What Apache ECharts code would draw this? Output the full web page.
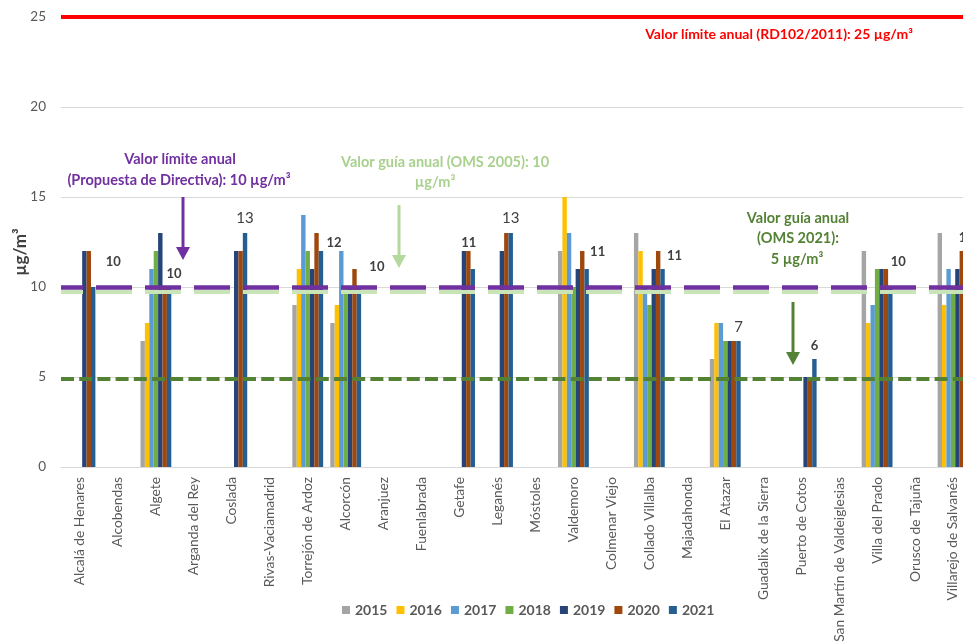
<!DOCTYPE html>
<html>
<head>
<meta charset="utf-8">
<script src="https://cdn.jsdelivr.net/npm/echarts@6/dist/echarts.min.js"></script>
<style>
html,body{margin:0;padding:0;background:#fff;}
#chart{width:963px;height:644px;}
</style>
</head>
<body>
<div id="chart"></div>
<script>
const categories = ["Alcalá de Henares","Alcobendas","Algete","Arganda del Rey","Coslada","Rivas-Vaciamadrid","Torrejón de Ardoz","Alcorcón","Aranjuez","Fuenlabrada","Getafe","Leganés","Móstoles","Valdemoro","Colmenar Viejo","Collado Villalba","Majadahonda","El Atazar","Guadalix de la Sierra","Puerto de Cotos","San Martín de Valdeiglesias","Villa del Prado","Orusco de Tajuña","Villarejo de Salvanés"];
const years = ["2015","2016","2017","2018","2019","2020","2021"];
const v2015 = [null,null,7,null,null,null,9,8,null,null,null,null,null,12,null,13,null,6,null,null,null,12,null,13];
const v2016 = [null,null,8,null,null,null,11,9,null,null,null,null,null,15,null,12,null,8,null,null,null,8,null,9];
const v2017 = [null,null,11,null,null,null,14,12,null,null,null,null,null,13,null,10,null,8,null,null,null,9,null,11];
const v2018 = [null,null,12,null,null,null,12,10,null,null,null,null,null,10,null,9,null,7,null,null,null,11,null,10];
const v2019 = [12,null,13,null,12,null,11,10,null,null,12,12,null,11,null,11,null,7,null,5,null,11,null,11];
const v2020 = [12,null,10,null,12,null,13,11,null,null,12,13,null,12,null,12,null,7,null,5,null,11,null,12];
const v2021 = [10,null,10,null,13,null,12,10,null,null,11,13,null,11,null,11,null,7,null,6,null,10,null,12];
const yTicks = [0,5,10,15,20,25];
const limitRD = 25;      // Valor límite anual (RD102/2011)
const limitDir = 10;     // Propuesta de Directiva
const guideOMS2005 = 10; // OMS 2005
const guideOMS2021 = 5;  // OMS 2021

// styles (not data)
const colors = ["#A5A5A5","#FFC000","#5B9BD5","#70AD47","#264478","#9E480E","#255E91"];
const FONT = "Lato, 'Open Sans', sans-serif";
const labelOffsets = {0:[20,-19],2:[5,-7],4:[0,-7],6:[13,-2],7:[18,-14],10:[-4,-20],11:[0,-7],13:[11,-11],15:[12,-7],17:[0,-6],19:[0,-7],21:[8,-19],23:[0,-7]};
const plainLabels = {4:true,11:true,17:true};

const allValues = [v2015,v2016,v2017,v2018,v2019,v2020,v2021];

const series = years.map((y, k) => {
  const vals = allValues[k];
  return {
    name: y, type: 'bar', barGap: '0%', barCategoryGap: '18.8%',
    itemStyle: {color: colors[k]},
    data: vals.map((v, i) => {
      if (k === 6 && v !== null && labelOffsets[i]) {
        const plain = plainLabels[i];
        return {value: v, label: {show: true, position: 'top', distance: 0, offset: labelOffsets[i],
          fontFamily: FONT, fontSize: plain ? 15 : 13, fontWeight: plain ? 'normal' : 'bold', color: '#404040'}};
      }
      return v;
    }),
    z: 2
  };
});

const mlLine = (val, color, width, type, offset) => ({
  yAxis: val,
  lineStyle: {color: color, width: width, type: type, dashOffset: offset || 0}
});

series.push({
  type: 'line', data: [], z: 10, silent: true,
  markLine: {
    silent: true, symbol: 'none', animation: false, label: {show: false},
    data: [
      mlLine(limitRD, '#FF0000', 4, 'solid'),
      mlLine(guideOMS2005 - 0.28, '#C9E5B8', 4, [36, 13], 14),
      mlLine(limitDir, '#7030A0', 4.5, [36, 13], 14),
      mlLine(guideOMS2021 - 0.08, '#548235', 4, [13, 5.2], 0)
    ]
  }
});

const txt = (x, y, text, color, size) => ({
  type: 'text', x: x, y: y, z: 20,
  style: {text: text, fill: color, font: 'bold ' + (size || 14.5) + 'px ' + FONT, align: 'center', verticalAlign: 'middle'}
});
const arrow = (x, y1, y2, color) => ([
  {type: 'line', z: 20, shape: {x1: x, y1: y1, x2: x, y2: y2 - 11}, style: {stroke: color, lineWidth: 3}},
  {type: 'polygon', z: 20, shape: {points: [[x - 7, y2 - 13], [x + 7, y2 - 13], [x, y2]]}, style: {fill: color}}
]);

const chart = echarts.init(document.getElementById('chart'), null, {renderer: 'canvas'});
chart.setOption({
  animation: false,
  color: colors,
  textStyle: {fontFamily: FONT},
  grid: {left: 61, top: 17, width: 911, height: 450, containLabel: false, outerBoundsMode: 'none'},
  legend: {
    data: years, left: 337, top: 598, itemWidth: 8, itemHeight: 8, itemGap: 9, icon: 'rect',
    textStyle: {fontFamily: FONT, fontSize: 14, fontWeight: 'bold', color: '#595959'}
  },
  xAxis: {
    type: 'category', data: categories,
    axisLine: {lineStyle: {color: '#D9D9D9'}},
    axisTick: {show: false},
    axisLabel: {rotate: 90, interval: 0, margin: 10, fontSize: 13.8, color: '#595959', fontFamily: FONT}
  },
  yAxis: {
    type: 'value', min: yTicks[0], max: yTicks[yTicks.length - 1], interval: 5,
    axisLine: {show: false}, axisTick: {show: false},
    axisLabel: {margin: 15, fontSize: 13.5, color: '#595959', fontFamily: FONT},
    splitLine: {lineStyle: {color: '#D9D9D9', width: 1}}
  },
  series: series,
  graphic: [
    {type: 'text', x: 21, y: 252, rotation: Math.PI / 2, z: 20,
     style: {text: 'µg/m³', fill: '#404040', font: 'bold 17px ' + FONT, align: 'center', verticalAlign: 'middle'}},
    txt(779, 34, 'Valor límite anual (RD102/2011): 25 µg/m³', '#FF0000', 14),
    txt(180, 159, 'Valor límite anual', '#7030A0'),
    txt(179, 180, '(Propuesta de Directiva): 10 µg/m³', '#7030A0'),
    txt(445, 162, 'Valor guía anual (OMS 2005): 10', '#A9D18E'),
    txt(435, 182, 'µg/m³', '#A9D18E'),
    txt(798, 218, 'Valor guía anual', '#548235'),
    txt(798, 238, '(OMS 2021):', '#548235'),
    txt(797, 259, '5 µg/m³', '#548235'),
    ...arrow(183, 197, 260, '#7030A0'),
    ...arrow(399, 205, 268, '#B5D99C'),
    ...arrow(793, 302, 365, '#548235')
  ]
});
</script>
</body>
</html>
